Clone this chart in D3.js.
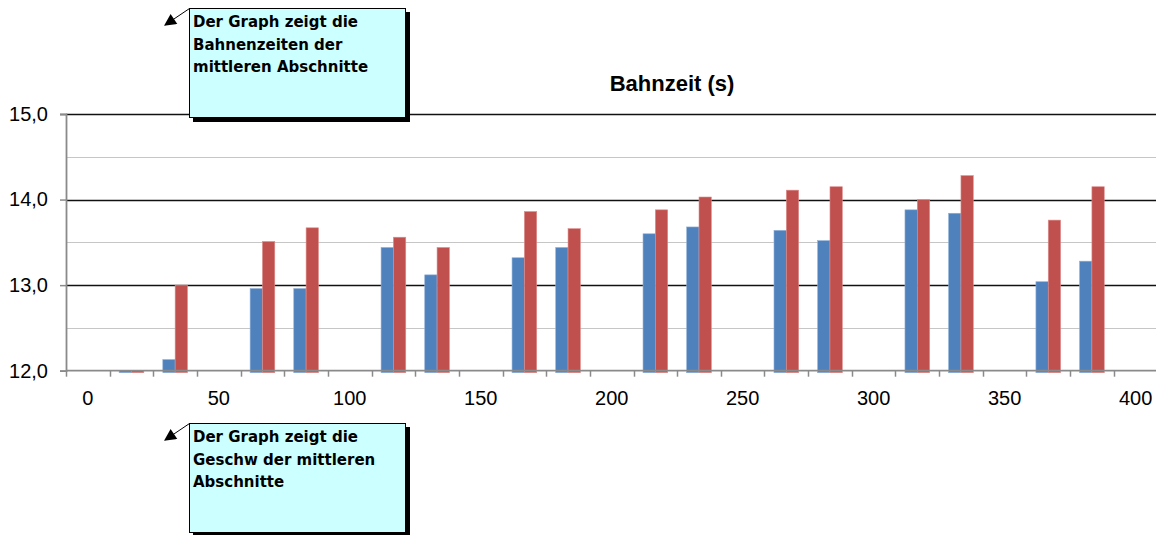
<!DOCTYPE html>
<html>
<head>
<meta charset="utf-8">
<script src="https://cdn.jsdelivr.net/npm/d3@7"></script>
<style>
    body { margin: 0; background: #ffffff; }
    svg { display: block; }
</style>
</head>
<body>
<div id="chart"></div>
<script>
'use strict';

// Abschnitte (m) - only every third label is shown
var categories = [0, 17, 33, 50, 67, 83, 100, 117, 133, 150, 167, 183, 200,
    217, 233, 250, 267, 283, 300, 317, 333, 350, 367, 383, 400];
var seriesNames = ['Serie 1', 'Serie 2'];
var serie1 = [null, 12.0, 12.13, null, 12.96, 12.96, null, 13.44, 13.12, null, 13.32, 13.44, null,
    13.60, 13.68, null, 13.64, 13.52, null, 13.88, 13.84, null, 13.04, 13.28, null];
var serie2 = [null, 12.0, 13.0, null, 13.51, 13.67, null, 13.56, 13.44, null, 13.86, 13.66, null,
    13.88, 14.03, null, 14.11, 14.15, null, 14.0, 14.28, null, 13.76, 14.15, null];
var yMajorTicks = [12, 13, 14, 15];
var yMinorTicks = [12.5, 13.5, 14.5];
var chartTitle = 'Bahnzeit (s)';
var callouts = [
    { lines: ['Der Graph zeigt die', 'Bahnenzeiten der', 'mittleren Abschnitte'] },
    { lines: ['Der Graph zeigt die', 'Geschw der mittleren', 'Abschnitte'] }
];

var width = 1156, height = 535;
var colors = ['#4f81bd', '#c0504d'];

var svg = d3.select('#chart')
    .append('svg')
    .attr('width', width)
    .attr('height', height);

svg.append('defs').append('marker')
    .attr('id', 'arrowhead')
    .attr('viewBox', '0 0 10 10')
    .attr('refX', 9)
    .attr('refY', 5)
    .attr('markerWidth', 16)
    .attr('markerHeight', 12)
    .attr('markerUnits', 'userSpaceOnUse')
    .attr('orient', 'auto')
    .append('path')
    .attr('d', 'M0,0 L10,5 L0,10 Z')
    .attr('fill', '#000');

var x0 = d3.scaleBand()
    .domain(categories)
    .range([66, 1157.4])
    .padding(0);

var x1 = d3.scaleBand()
    .domain(seriesNames)
    .range([0, x0.bandwidth()])
    .paddingInner(0)
    .paddingOuter(0.77);

var y = d3.scaleLinear()
    .domain([12, 15])
    .range([370.7, 114]);

var base = y(12);

// gridlines
svg.append('g').selectAll('line')
    .data(yMinorTicks)
    .enter()
    .append('line')
    .attr('x1', 66).attr('x2', width)
    .attr('y1', function(d) { return Math.round(y(d)) + 0.5; })
    .attr('y2', function(d) { return Math.round(y(d)) + 0.5; })
    .attr('stroke', '#c6c6c6')
    .attr('stroke-width', 1.2);

svg.append('g').selectAll('line')
    .data(yMajorTicks.filter(function(d) { return d > 12; }))
    .enter()
    .append('line')
    .attr('x1', 66).attr('x2', width)
    .attr('y1', function(d) { return Math.round(y(d)) + 0.5; })
    .attr('y2', function(d) { return Math.round(y(d)) + 0.5; })
    .attr('stroke', '#111')
    .attr('stroke-width', 1.3);

// bars
var rows = categories.map(function(c, i) {
    return { cat: c, values: [serie1[i], serie2[i]] };
});

var groups = svg.append('g').selectAll('g')
    .data(rows)
    .enter()
    .append('g')
    .attr('transform', function(d) { return 'translate(' + x0(d.cat) + ',0)'; });

groups.selectAll('rect')
    .data(function(d) {
        return d.values.map(function(v, j) { return { name: seriesNames[j], v: v, j: j }; })
            .filter(function(e) { return e.v !== null; });
    })
    .enter()
    .append('rect')
    .attr('x', function(d) { return x1(d.name); })
    .attr('y', function(d) { return y(d.v); })
    .attr('width', x1.bandwidth())
    .attr('height', function(d) { return base - y(d.v) + 2; })
    .attr('fill', function(d) { return colors[d.j]; })
    .attr('stroke', function(d) { return d.j === 0 ? '#8fb0d8' : '#dc8e8c'; })
    .attr('stroke-width', 0.6);

// axes
var xAxis = d3.axisBottom(x0)
    .tickValues(categories.filter(function(d, i) { return i % 3 === 0; }))
    .tickSize(0)
    .tickPadding(20);

var xg = svg.append('g')
    .attr('transform', 'translate(0,' + base + ')')
    .call(xAxis);
xg.select('.domain').remove();
xg.selectAll('text')
    .attr('font-family', 'Liberation Sans, Arial, sans-serif')
    .attr('font-size', 20)
    .attr('fill', '#000');

svg.append('g').selectAll('line')
    .data(categories.concat(['end']))
    .enter()
    .append('line')
    .attr('x1', function(d, i) { return Math.round(66 + i * x0.step()) + 0.5; })
    .attr('x2', function(d, i) { return Math.round(66 + i * x0.step()) + 0.5; })
    .attr('y1', base)
    .attr('y2', base + 6)
    .attr('stroke', '#8a8a8a')
    .attr('stroke-width', 1.5);

svg.append('line')
    .attr('x1', 66).attr('x2', width)
    .attr('y1', base).attr('y2', base)
    .attr('stroke', '#8a8a8a')
    .attr('stroke-width', 1.8);

var yAxis = d3.axisLeft(y)
    .tickValues(yMajorTicks)
    .tickSize(6)
    .tickPadding(12)
    .tickFormat(function(d) { return d3.format('.1f')(d).replace('.', ','); });

var yg = svg.append('g')
    .attr('transform', 'translate(66,0)')
    .call(yAxis);
yg.select('.domain').attr('stroke', '#8a8a8a').attr('stroke-width', 1.8);
yg.selectAll('.tick line').attr('stroke', '#8a8a8a').attr('stroke-width', 1.5);
yg.selectAll('text')
    .attr('font-family', 'Liberation Sans, Arial, sans-serif')
    .attr('font-size', 20)
    .attr('fill', '#000');

// title
svg.append('text')
    .attr('x', 672)
    .attr('y', 91)
    .attr('text-anchor', 'middle')
    .attr('font-family', 'Liberation Sans, Arial, sans-serif')
    .attr('font-weight', 'bold')
    .attr('font-size', 22)
    .text(chartTitle);

// callouts
var boxTops = [8, 423];
callouts.forEach(function(c, i) {
    var top = boxTops[i];
    var g = svg.append('g');
    g.append('rect')
        .attr('x', 193).attr('y', top + 4)
        .attr('width', 217).attr('height', 110)
        .attr('fill', '#000');
    g.append('rect')
        .attr('x', 189.5).attr('y', top + 0.5)
        .attr('width', 216).attr('height', 109)
        .attr('fill', '#ccffff')
        .attr('stroke', '#000')
        .attr('stroke-width', 1);
    g.append('line')
        .attr('x1', 189.5).attr('y1', top + 0.5)
        .attr('x2', 165).attr('y2', top + 17)
        .attr('stroke', '#000')
        .attr('stroke-width', 1)
        .attr('marker-end', 'url(#arrowhead)');
    g.selectAll('text')
        .data(c.lines)
        .enter()
        .append('text')
        .attr('x', 193)
        .attr('y', function(d, k) { return top + 19 + k * 22.5; })
        .attr('font-family', 'DejaVu Sans, Verdana, sans-serif')
        .attr('font-weight', 'bold')
        .attr('font-size', 15)
        .attr('fill', '#000')
        .text(function(d) { return d; });
});
</script>
</body>
</html>
